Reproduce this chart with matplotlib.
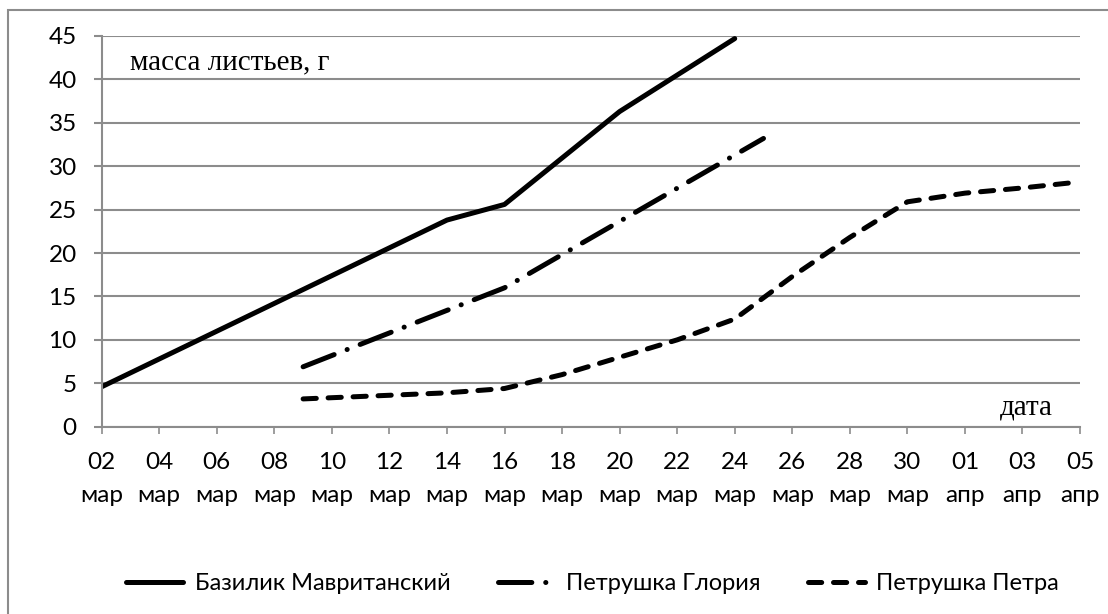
import numpy as np
import pandas as pd
import matplotlib
matplotlib.use('Agg')
import matplotlib.pyplot as plt
from matplotlib.patches import Rectangle

# ---- data ----
basil_dates = ['2015-03-02', '2015-03-14', '2015-03-16', '2015-03-20', '2015-03-24']
basil_mass = [4.6, 23.8, 25.6, 36.3, 44.7]

gloria_dates = ['2015-03-09', '2015-03-16', '2015-03-25']
gloria_mass = [6.9, 16.0, 33.2]

petra_dates = ['2015-03-09', '2015-03-14', '2015-03-16', '2015-03-18', '2015-03-20',
               '2015-03-22', '2015-03-24', '2015-03-26', '2015-03-28', '2015-03-30',
               '2015-04-01', '2015-04-03', '2015-04-05']
petra_mass = [3.2, 3.9, 4.4, 6.0, 8.0, 10.0, 12.4, 17.3, 21.8, 25.9, 26.9, 27.5, 28.2]

series_names = ['Базилик Мавританский', 'Петрушка Глория', 'Петрушка Петра']
month_names = {3: 'мар', 4: 'апр'}
tick_dates = pd.date_range('2015-03-02', '2015-04-05', freq='2D')
tick_labels = ['%02d\n%s' % (d.day, month_names[d.month]) for d in tick_dates]
y_ticks = list(range(0, 50, 5))

grey = '#8c8c8c'
ui_font = ['Lato', 'DejaVu Sans']
serif_font = ['Liberation Serif', 'DejaVu Serif']
fs = 17.5
plt.rcParams['lines.scale_dashes'] = False

fig = plt.figure(figsize=(11.08, 6.14), dpi=100)
ax = fig.add_axes([101.7 / 1108, 1 - 426.7 / 614, (1080 - 101.7) / 1108, (426.7 - 36) / 614])

ax.plot(pd.to_datetime(basil_dates), basil_mass, color='black', lw=3.6,
        solid_capstyle='round', solid_joinstyle='round', label=series_names[0])
ax.plot(pd.to_datetime(gloria_dates), gloria_mass, color='black', lw=3.6,
        dashes=(24, 10, 0.1, 10), dash_capstyle='round', label=series_names[1])
ax.plot(pd.to_datetime(petra_dates), petra_mass, color='black', lw=3.6,
        dashes=(9.5, 8.5), dash_capstyle='round', solid_joinstyle='round',
        label=series_names[2])

ax.set_xlim(tick_dates[0], tick_dates[-1])
ax.set_ylim(0, 45)
ax.set_xticks(tick_dates)
ax.set_xticklabels(tick_labels, family=ui_font, fontsize=fs, linespacing=1.72)
ax.set_yticks(y_ticks)
ax.set_yticklabels([str(v) for v in y_ticks], family=ui_font, fontsize=fs)

ax.grid(axis='y', color=grey, lw=1.5)
ax.set_axisbelow(True)
for s in ['top', 'right']:
    ax.spines[s].set_visible(False)
for s in ['left', 'bottom']:
    ax.spines[s].set_color(grey)
    ax.spines[s].set_linewidth(1.5)
ax.tick_params(axis='y', length=6, width=1.5, color=grey, pad=12)
ax.tick_params(axis='x', length=5, width=1.2, color=grey, pad=13)

ax.text(130 / 1108, 1 - 62 / 614, 'масса листьев, г', transform=fig.transFigure,
        family=serif_font, fontsize=21, va='center', ha='left')
ax.text(1000 / 1108, 1 - 407 / 614, 'дата', transform=fig.transFigure,
        family=serif_font, fontsize=21, va='center', ha='left')

fig.legend(loc='center', bbox_to_anchor=(0.535, 1 - 584 / 614), ncol=3, frameon=False,
           prop={'family': ui_font, 'size': 17}, handlelength=2.4, handletextpad=0.5,
           columnspacing=2.0)

# outer chart border (cut by the picture edge on the right and bottom)
fig.patches.append(Rectangle((8 / 1108, -0.1), 1.2, 1 - 10 / 614 + 0.1,
                             transform=fig.transFigure, fill=False,
                             edgecolor=grey, lw=1.5))

fig.savefig('out.png', dpi=100)
